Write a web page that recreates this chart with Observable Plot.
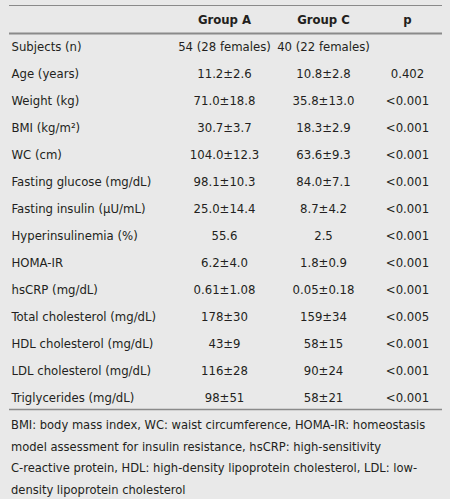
<!DOCTYPE html>
<html>
<head>
<meta charset="utf-8">
<script src="https://cdn.jsdelivr.net/npm/d3@7"></script>
<script src="https://cdn.jsdelivr.net/npm/@observablehq/plot@0.6"></script>
<style>
  html, body { margin: 0; padding: 0; background: #e9e9e9; }
  body { width: 450px; height: 499px; overflow: hidden; font-family: "DejaVu Sans Condensed", "Liberation Sans Narrow", sans-serif; color: #231f20; }
  #caption { margin: 0; padding: 0 4px 0 11px; font-size: 12.8px; line-height: 21.5px; white-space: nowrap; }
</style>
</head>
<body>
<div id="chart"></div>
<div id="caption"></div>
<script>
// ---- data ----
const headers = ["", "Group A", "Group C", "p"];
const rowLabels = [
  "Subjects (n)", "Age (years)", "Weight (kg)", "BMI (kg/m²)", "WC (cm)",
  "Fasting glucose (mg/dL)", "Fasting insulin (µU/mL)", "Hyperinsulinemia (%)",
  "HOMA-IR", "hsCRP (mg/dL)", "Total cholesterol (mg/dL)", "HDL cholesterol (mg/dL)",
  "LDL cholesterol (mg/dL)", "Triglycerides (mg/dL)"
];
const groupA = [
  "54 (28 females)", "11.2±2.6", "71.0±18.8", "30.7±3.7", "104.0±12.3",
  "98.1±10.3", "25.0±14.4", "55.6", "6.2±4.0", "0.61±1.08", "178±30",
  "43±9", "116±28", "98±51"
];
const groupC = [
  "40 (22 females)", "10.8±2.8", "35.8±13.0", "18.3±2.9", "63.6±9.3",
  "84.0±7.1", "8.7±4.2", "2.5", "1.8±0.9", "0.05±0.18", "159±34",
  "58±15", "90±24", "58±21"
];
const pValues = [
  "", "0.402", "<0.001", "<0.001", "<0.001", "<0.001", "<0.001", "<0.001",
  "<0.001", "<0.001", "<0.005", "<0.001", "<0.001", "<0.001"
];
const footnoteLines = [
  "BMI: body mass index, WC: waist circumference, HOMA-IR: homeostasis",
  "model assessment for insulin resistance, hsCRP: high-sensitivity",
  "C-reactive protein, HDL: high-density lipoprotein cholesterol, LDL: low-",
  "density lipoprotein cholesterol"
];

// ---- layout ----
const colKeys = ["label", "A", "C", "p"];
const colX = {label: 11, A: 224, C: 323, p: 407};
const HEAD = "__header__";
const rowDomain = [HEAD, ...rowLabels];

const cells = [];
colKeys.forEach((k, i) => cells.push({row: HEAD, col: k, text: headers[i], header: true}));
rowLabels.forEach((r, i) => {
  cells.push({row: r, col: "label", text: r});
  cells.push({row: r, col: "A", text: groupA[i]});
  cells.push({row: r, col: "C", text: groupC[i]});
  cells.push({row: r, col: "p", text: pValues[i]});
});
const body = cells.filter(d => !d.header);
const head = cells.filter(d => d.header);

const font = '"DejaVu Sans Condensed", "Liberation Sans Narrow", sans-serif';
const chart = Plot.plot({
  width: 450,
  height: 414,
  margin: 0,
  style: {background: "#e9e9e9", color: "#231f20", fontFamily: font, overflow: "visible"},
  x: {type: "linear", domain: [0, 450], range: [0, 450], axis: null},
  y: {type: "point", domain: rowDomain, range: [18, 398], padding: 0, axis: null},
  marks: [
    Plot.ruleY([HEAD], {y: d => d, x1: 9, x2: 442, dy: -14, stroke: "#8a8a8a", strokeWidth: 1}),
    Plot.ruleY([HEAD], {y: d => d, x1: 9, x2: 442, dy: 14, stroke: "#8a8a8a", strokeWidth: 2}),
    Plot.ruleY([rowLabels[rowLabels.length - 1]], {y: d => d, x1: 9, x2: 442, dy: 12, stroke: "#8a8a8a", strokeWidth: 1.5}),
    Plot.text(head, {x: d => colX[d.col], y: "row", text: "text", fontWeight: "bold", fontSize: 13, fill: "#231f20", textAnchor: "middle"}),
    Plot.text(body.filter(d => d.col === "label"), {x: d => colX[d.col], y: "row", text: "text", fontSize: 13, fill: "#231f20", textAnchor: "start"}),
    Plot.text(body.filter(d => d.col !== "label"), {x: d => colX[d.col], y: "row", text: "text", fontSize: 13, fill: "#231f20", textAnchor: "middle"})
  ]
});
document.getElementById("chart").appendChild(chart);
const cap = document.getElementById("caption");
footnoteLines.forEach(line => {
  const div = document.createElement("div");
  div.textContent = line;
  cap.appendChild(div);
});
</script>
</body>
</html>
